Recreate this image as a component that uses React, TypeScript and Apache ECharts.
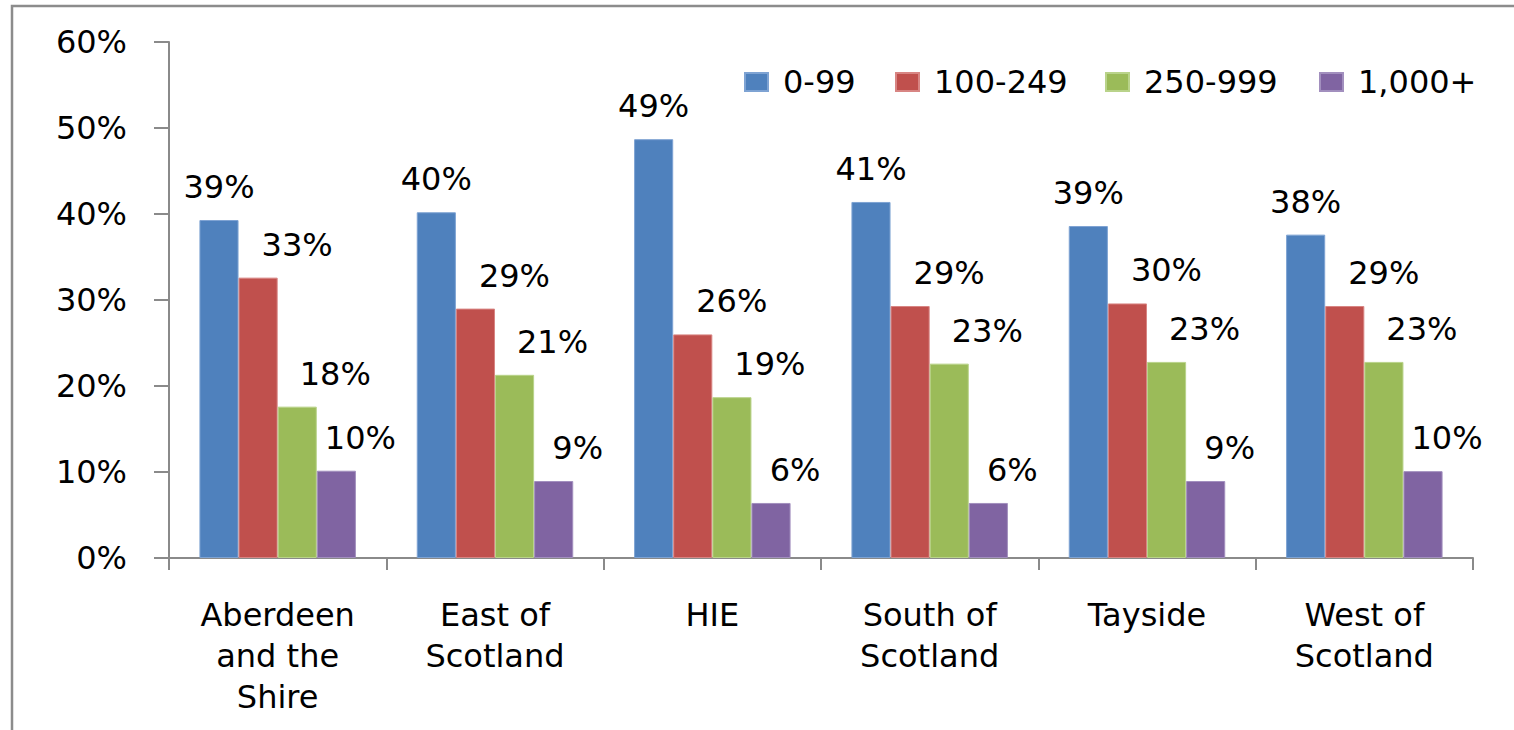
import React, { useEffect, useRef } from "react";
import * as echarts from "echarts";

const categories = [
  "Aberdeen\nand the\nShire",
  "East of\nScotland",
  "HIE",
  "South of\nScotland",
  "Tayside",
  "West of\nScotland",
];
const seriesNames = ["0-99", "100-249", "250-999", "1,000+"];
const values0to99 = [39.3, 40.2, 48.7, 41.4, 38.6, 37.6];
const values100to249 = [32.6, 29.0, 26.0, 29.3, 29.6, 29.3];
const values250to999 = [17.6, 21.3, 18.7, 22.6, 22.8, 22.8];
const values1000plus = [10.15, 8.95, 6.4, 6.4, 8.95, 10.1];
const yTicks = [0, 10, 20, 30, 40, 50, 60];

const colors = ["#4F81BD", "#C0504D", "#9BBB59", "#8064A2"];
const labelShift = [0, 39, 38, 24];
const borderColors = ["#7EA3D3", "#D88583", "#B9D38A", "#A28FBE"];
const legendLeft = [739, 890, 1100, 1314];

export default function App() {
  const ref = useRef<HTMLDivElement>(null);
  useEffect(() => {
    document.body.style.margin = "0";
    if (!ref.current) return;
    const chart = echarts.init(ref.current, null, { renderer: "svg" });
    const allValues = [values0to99, values100to249, values250to999, values1000plus];
    const axisColor = "#8A8A8A";
    chart.setOption({
      animation: false,
      backgroundColor: "#ffffff",
      grid: { left: 169, right: 41, top: 42, bottom: 172, containLabel: false },
      legend: seriesNames.map((name, i) => ({
        data: [name],
        left: legendLeft[i],
        top: 61,
        icon: "rect",
        itemWidth: 23,
        itemHeight: 18,
        textStyle: {
          fontFamily: "DejaVu Sans",
          fontSize: 32,
          color: "#000",
          padding: [0, 0, 0, 10],
        },
      })),
      xAxis: {
        type: "category",
        data: categories,
        axisLine: { show: true, lineStyle: { color: axisColor, width: 2 } },
        axisTick: { show: true, length: 12, lineStyle: { color: axisColor, width: 2 } },
        axisLabel: {
          interval: 0,
          margin: 36,
          fontFamily: "DejaVu Sans",
          fontSize: 32,
          lineHeight: 41,
          color: "#000",
        },
      },
      yAxis: {
        type: "value",
        min: yTicks[0],
        max: yTicks[yTicks.length - 1],
        interval: yTicks[1] - yTicks[0],
        splitLine: { show: false },
        axisLine: { show: true, lineStyle: { color: axisColor, width: 2 } },
        axisTick: { show: true, length: 15, lineStyle: { color: axisColor, width: 2 } },
        axisLabel: {
          formatter: "{value}%",
          margin: 42,
          fontFamily: "DejaVu Sans",
          fontSize: 32,
          color: "#000",
        },
      },
      graphic: [
        {
          type: "rect",
          shape: { x: 12, y: 6, width: 1600, height: 800 },
          style: { fill: "none", stroke: "#8C8C8C", lineWidth: 2.5 },
          silent: true,
        },
      ],
      series: seriesNames.map((name, i) => ({
        name,
        type: "bar",
        data: allValues[i],
        barGap: "0%",
        barCategoryGap: "28%",
        itemStyle: { color: colors[i], borderColor: borderColors[i], borderWidth: 1 },
        label: {
          show: true,
          position: "top",
          distance: 17,
          offset: [labelShift[i], 0],
          formatter: (p: any) => Math.round(p.value) + "%",
          fontFamily: "DejaVu Sans",
          fontSize: 32,
          color: "#000",
        },
      })),
    });
    return () => chart.dispose();
  }, []);
  return <div ref={ref} style={{ width: 1514, height: 730 }} />;
}
